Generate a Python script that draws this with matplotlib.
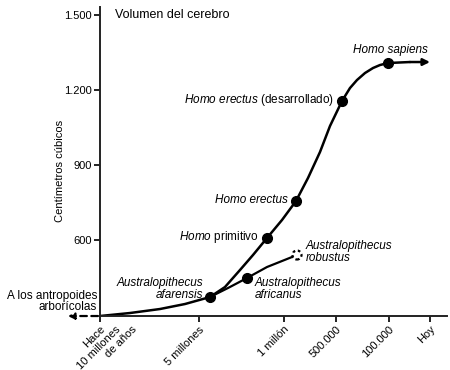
import matplotlib
matplotlib.use("Agg")
import matplotlib.pyplot as plt

plt.rcParams["font.family"] = ["Liberation Sans", "DejaVu Sans"]
plt.rcParams["mathtext.fontset"] = "custom"
plt.rcParams["mathtext.rm"] = "Liberation Sans"
plt.rcParams["mathtext.it"] = "Liberation Sans:italic"

# positions along the (non linear) time axis
tick_pos = [0, 99, 184, 236, 289, 330]
tick_labels = ["", "5 millones", "1 millón", "500.000", "100.000", "Hoy"]
first_label = ["Hace", "10 millones", "de años"]

# main line
main_x = [0, 30, 60, 85, 110, 125, 140, 153, 167, 182, 196, 208, 220, 230, 242,
          250, 257, 265, 273, 280, 288, 310, 330]
main_y = [296, 308, 324, 344, 372, 412, 480, 540, 608, 680, 756, 848, 952, 1056, 1156,
          1208, 1240, 1268, 1288, 1300, 1308, 1312, 1312]

# australopithecus branch
branch_x = [110, 128, 147, 167, 182, 197]
branch_y = [372, 408, 448, 492, 516, 540]

species = ["afarensis", "primitivo", "erectus", "desarrollado", "sapiens", "africanus"]
sp_x = [110, 167, 196, 242, 288, 147]
sp_y = [372, 608, 756, 1156, 1308, 448]
robustus_x, robustus_y = 197, 540

fig = plt.figure(figsize=(4.5, 3.7), dpi=100)
ax = fig.add_axes([0.2222, 0.1459, 0.7711, 0.8351])
ax.set_xlim(0, 347)
ax.set_ylim(296, 1532)

for s in ["top", "right"]:
    ax.spines[s].set_visible(False)
for s in ["left", "bottom"]:
    ax.spines[s].set_linewidth(1.4)
    ax.spines[s].set_color("#222222")

ax.set_yticks([600, 900, 1200, 1500])
ax.set_yticklabels(["600", "900", "1.200", "1.500"], fontsize=8)
ax.set_xticks(tick_pos)
ax.set_xticklabels(tick_labels, rotation=45, ha="right", va="top",
                   rotation_mode="anchor", fontsize=8)
ax.tick_params(axis="both", direction="out", length=4, width=1.4, color="#222222")
ax.tick_params(axis="x", pad=2)
ax.tick_params(axis="y", pad=2)

# first tick label: each line placed on its own, as in the original
for i, (line, dx) in enumerate(zip(first_label, [0, 15, 32])):
    ax.annotate(line, xy=(tick_pos[0], 0), xycoords=("data", "axes fraction"),
                xytext=(dx, -8), textcoords="offset pixels", rotation=45,
                ha="right", va="top", rotation_mode="anchor", fontsize=8,
                annotation_clip=False)

ax.set_ylabel("Centímetros cúbicos", fontsize=8)
ax.yaxis.set_label_coords(-0.10, 0.47)

ax.plot(main_x[:-1], main_y[:-1], color="black", lw=1.8, solid_capstyle="round")
ax.annotate("", xy=(main_x[-1], main_y[-1]), xytext=(main_x[-2], main_y[-2]),
            arrowprops=dict(arrowstyle="-|>", color="black", lw=1.8,
                            mutation_scale=10, shrinkA=0, shrinkB=0))
ax.plot(branch_x, branch_y, color="black", lw=1.6)

ax.plot(sp_x, sp_y, "o", color="black", ms=7, zorder=3)
ax.scatter([robustus_x], [robustus_y], s=42, facecolor="white", edgecolor="black",
           linewidths=1.6, linestyles=(0, (1.2, 1.2)), zorder=4)

fs = 8.5
ax.text(15, 1500, "Volumen del cerebro", fontsize=9, va="center", ha="left")
ax.text(253, 1360, "Homo sapiens", fontsize=fs, style="italic", va="center")
ax.text(234, 1160, r"$\it{Homo\ erectus}$ (desarrollado)", fontsize=fs,
        va="center", ha="right")
ax.text(188, 760, "Homo erectus", fontsize=fs, style="italic", va="center", ha="right")
ax.text(159, 612, r"$\it{Homo}$ primitivo", fontsize=fs, va="center", ha="right")
ax.text(103, 404, "Australopithecus\nafarensis", fontsize=fs, style="italic",
        va="center", ha="right", multialignment="right", linespacing=0.9)
ax.text(155, 404, "Australopithecus\nafricanus", fontsize=fs, style="italic",
        va="center", ha="left", linespacing=0.9)
ax.text(206, 552, "Australopithecus\nrobustus", fontsize=fs, style="italic",
        va="center", ha="left", linespacing=0.9)

ax.text(-3, 354, "A los antropoides\narborícolas", fontsize=fs, ha="right",
        va="center", multialignment="right", linespacing=0.85, clip_on=False)
ax.annotate("", xy=(-32, 296), xytext=(-2, 296), annotation_clip=False,
            arrowprops=dict(arrowstyle="-|>", color="black", lw=1.6, ls=(0, (3, 2)),
                            mutation_scale=9, shrinkA=0, shrinkB=0))

fig.savefig("out.png", dpi=100)
